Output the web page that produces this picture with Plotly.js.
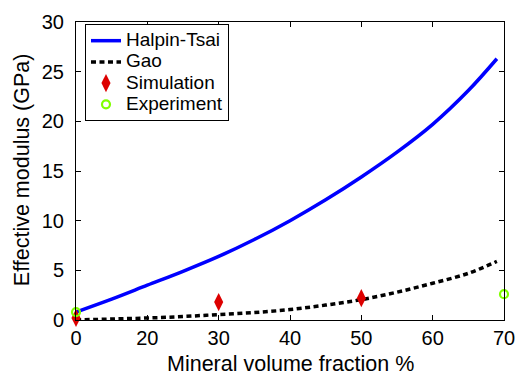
<!DOCTYPE html>
<html>
<head>
<meta charset="utf-8">
<script src="https://cdn.plot.ly/plotly-3.0.1.min.js"></script>
<style>html,body{margin:0;padding:0;background:#fff;}#chart{width:515px;height:375px;}</style>
</head>
<body>
<div id="chart"></div>
<script>
// x positions are in axis units: the first tick (position 10) is labelled "0"
const tickVals = [10, 20, 30, 40, 50, 60, 70];
const tickText = ['0', '20', '30', '40', '50', '60', '70'];

const halpinX = [10, 15, 20, 25, 30, 35, 40, 45, 50, 55, 60, 65, 69];
const halpinY = [0.8, 2.1, 3.5, 4.9, 6.4, 8.1, 10.0, 12.1, 14.4, 16.9, 19.7, 23.1, 26.3];

const gaoX = [10, 15, 20, 25, 30, 35, 40, 45, 50, 55, 60, 65, 69];
const gaoY = [0.0, 0.1, 0.2, 0.35, 0.55, 0.75, 1.05, 1.5, 2.05, 2.8, 3.7, 4.7, 5.9];

const simX = [10, 30, 50];
const simY = [0.2, 1.8, 2.2];

const expX = [10, 70];
const expY = [0.8, 2.6];

const seriesNames = ['Halpin-Tsai', 'Gao', 'Simulation', 'Experiment'];
const xTitle = 'Mineral volume fraction %';
const yTitle = 'Effective modulus (GPa)';

const FONT = 'Liberation Sans, Arial, Helvetica, sans-serif';
const big = s => '<span style="font-size:19px">' + s + '</span>';

const traces = [
  {x: halpinX, y: halpinY, name: big(seriesNames[0]), type: 'scatter', mode: 'lines',
   line: {color: '#0000ff', width: 3.5, shape: 'spline'}},
  {x: gaoX, y: gaoY, name: big(seriesNames[1]), type: 'scatter', mode: 'lines',
   line: {color: '#000000', width: 3.5, dash: '5px,3.5px', shape: 'spline'}},
  {x: simX, y: simY, name: big(seriesNames[2]), type: 'scatter', mode: 'markers', cliponaxis: false,
   marker: {symbol: 'diamond-tall', size: 13, color: '#dd0000', line: {width: 0}}},
  {x: expX, y: expY, name: big(seriesNames[3]), type: 'scatter', mode: 'markers', cliponaxis: false,
   marker: {symbol: 'circle-open', size: 8, color: '#80ff00', line: {width: 2.2, color: '#80ff00'}}}
];

const axisCommon = {
  showline: true, linecolor: '#000', linewidth: 1, mirror: 'ticks',
  ticks: 'inside', ticklen: 5, tickcolor: '#000', tickwidth: 1,
  showgrid: false, zeroline: false, ticklabeloverflow: 'allow',
  tickfont: {family: FONT, size: 20, color: '#000'}
};

const titleFont = {family: FONT, size: 21.5, color: '#000'};

const layout = {
  width: 515, height: 375,
  margin: {l: 76, r: 11, t: 22, b: 55, pad: 0},
  paper_bgcolor: '#fff', plot_bgcolor: '#fff',
  font: {family: FONT, color: '#000'},
  showlegend: true,
  legend: {x: 0.021, y: 0.993, xanchor: 'left', yanchor: 'top',
           bordercolor: '#000', borderwidth: 1, bgcolor: '#fff',
           font: {family: FONT, size: 14, color: '#000'}, itemwidth: 30,
           tracegroupgap: 0},
  xaxis: Object.assign({}, axisCommon, {
    range: [10, 70], tickmode: 'array', tickvals: tickVals, ticktext: tickText,
    automargin: false
  }),
  yaxis: Object.assign({}, axisCommon, {
    range: [0, 30], dtick: 5, tick0: 0, ticklabelstandoff: 7, automargin: false
  }),
  annotations: [{
    text: yTitle, textangle: -90, showarrow: false,
    xref: 'paper', yref: 'paper', x: -0.126, y: 0.503, xanchor: 'center', yanchor: 'middle',
    font: titleFont
  }, {
    text: xTitle, showarrow: false, borderpad: 0,
    xref: 'paper', yref: 'paper', x: 0.5, y: -0.147, xanchor: 'center', yanchor: 'middle',
    font: titleFont
  }]
};

Plotly.newPlot('chart', traces, layout, {displayModeBar: false, staticPlot: true});
</script>
</body>
</html>
